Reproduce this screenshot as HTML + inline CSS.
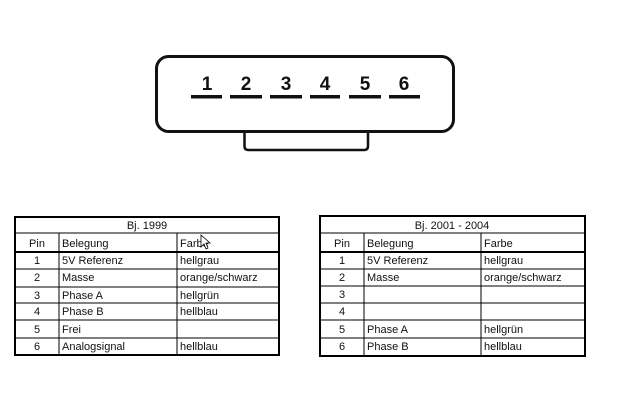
<!DOCTYPE html>
<html><head><meta charset="utf-8"><style>
html,body{margin:0;padding:0;background:#fff;width:617px;height:403px;overflow:hidden}
svg{display:block}
text{font-family:"Liberation Sans",sans-serif}
</style></head><body>
<svg width="617" height="403" viewBox="0 0 617 403" xmlns="http://www.w3.org/2000/svg">
<rect x="156.5" y="56.5" width="297" height="75" rx="12" fill="none" stroke="#111" stroke-width="3"/>
<path d="M244.5 132 V146 Q244.5 150 248.5 150 H364 Q368 150 368 146 V132" fill="none" stroke="#111" stroke-width="2.5"/>
<g fill="#111">
<rect x="191" y="95" width="31" height="3.5"/><rect x="230" y="95" width="32" height="3.5"/>
<rect x="270" y="95" width="32" height="3.5"/><rect x="310" y="95" width="30" height="3.5"/>
<rect x="349" y="95" width="32" height="3.5"/><rect x="389" y="95" width="31" height="3.5"/>
</g>
<g font-size="19" font-weight="bold" fill="#111" text-anchor="middle">
<text x="207" y="90">1</text><text x="246" y="90">2</text><text x="286" y="90">3</text>
<text x="325" y="90">4</text><text x="365" y="90">5</text><text x="404" y="90">6</text>
</g>

<!-- left table -->
<g stroke="#000" fill="none">
<rect x="15" y="217" width="264" height="138" stroke-width="2"/>
<line x1="15" y1="233" x2="279" y2="233" stroke-width="1"/>
<line x1="15" y1="252" x2="279" y2="252" stroke-width="2"/>
<line x1="15" y1="269" x2="279" y2="269"/><line x1="15" y1="287" x2="279" y2="287"/>
<line x1="15" y1="303" x2="279" y2="303"/><line x1="15" y1="320" x2="279" y2="320"/>
<line x1="15" y1="338" x2="279" y2="338"/>
<line x1="59" y1="233" x2="59" y2="355"/><line x1="177" y1="233" x2="177" y2="355"/>
</g>
<g font-size="11" fill="#111">
<text x="147" y="229" text-anchor="middle">Bj. 1999</text>
<text x="37" y="247" text-anchor="middle">Pin</text><text x="62" y="247">Belegung</text><text x="180" y="247">Farbe</text>
<text x="37" y="264" text-anchor="middle">1</text><text x="62" y="264">5V Referenz</text><text x="180" y="264">hellgrau</text>
<text x="37" y="281" text-anchor="middle">2</text><text x="62" y="281">Masse</text><text x="180" y="281">orange/schwarz</text>
<text x="37" y="299" text-anchor="middle">3</text><text x="62" y="299">Phase A</text><text x="180" y="299">hellgrün</text>
<text x="37" y="315" text-anchor="middle">4</text><text x="62" y="315">Phase B</text><text x="180" y="315">hellblau</text>
<text x="37" y="333" text-anchor="middle">5</text><text x="62" y="333">Frei</text>
<text x="37" y="350" text-anchor="middle">6</text><text x="62" y="350">Analogsignal</text><text x="180" y="350">hellblau</text>
</g>
<path d="M201 235 L201 247 L204 244 L206 249 L208 248 L206 243 L210 243 Z" fill="#fff" stroke="#000" stroke-width="0.8"/>

<!-- right table -->
<g stroke="#000" fill="none">
<rect x="320" y="216" width="265" height="140" stroke-width="2"/>
<line x1="320" y1="233" x2="585" y2="233" stroke-width="1"/>
<line x1="320" y1="252" x2="585" y2="252" stroke-width="2"/>
<line x1="320" y1="269" x2="585" y2="269"/><line x1="320" y1="286" x2="585" y2="286"/>
<line x1="320" y1="303" x2="585" y2="303"/><line x1="320" y1="320" x2="585" y2="320"/>
<line x1="320" y1="338" x2="585" y2="338"/>
<line x1="364" y1="233" x2="364" y2="356"/><line x1="481" y1="233" x2="481" y2="356"/>
</g>
<g font-size="11" fill="#111">
<text x="452" y="229" text-anchor="middle">Bj. 2001 - 2004</text>
<text x="342" y="247" text-anchor="middle">Pin</text><text x="367" y="247">Belegung</text><text x="484" y="247">Farbe</text>
<text x="342" y="264" text-anchor="middle">1</text><text x="367" y="264">5V Referenz</text><text x="484" y="264">hellgrau</text>
<text x="342" y="281" text-anchor="middle">2</text><text x="367" y="281">Masse</text><text x="484" y="281">orange/schwarz</text>
<text x="342" y="298" text-anchor="middle">3</text>
<text x="342" y="315" text-anchor="middle">4</text>
<text x="342" y="333" text-anchor="middle">5</text><text x="367" y="333">Phase A</text><text x="484" y="333">hellgrün</text>
<text x="342" y="350" text-anchor="middle">6</text><text x="367" y="350">Phase B</text><text x="484" y="350">hellblau</text>
</g>
</svg>
</body></html>
